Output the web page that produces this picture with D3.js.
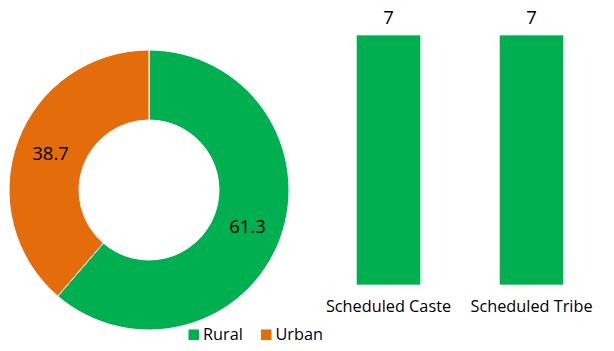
<!DOCTYPE html>
<html>
<head>
<meta charset="utf-8">
<script src="https://cdn.jsdelivr.net/npm/d3@7"></script>
<style>
  html, body { margin: 0; padding: 0; background: #fff; }
  svg { display: block; }
  text { font-family: "Open Sans", "Noto Sans", sans-serif; fill: #000; }
</style>
</head>
<body>
<svg id="chart" width="614" height="351"></svg>
<script>
// Residence split (percent)
const areaNames = ["Rural", "Urban"];
const areaValues = [61.3, 38.7];
const areaColors = ["#00B050", "#E46C0A"];

// Social group counts
const groupNames = ["Scheduled Caste", "Scheduled Tribe"];
const groupValues = [7, 7];
const barColor = "#00B050";

const svg = d3.select("#chart");

// ---- Donut ----
const cx = 149, cy = 190, outerR = 140, innerR = 70;
const pie = d3.pie().sort(null).value(d => d.value);
const arc = d3.arc().innerRadius(innerR).outerRadius(outerR);
const slices = pie(areaNames.map((n, i) => ({ name: n, value: areaValues[i], color: areaColors[i] })));

const donut = svg.append("g").attr("transform", `translate(${cx},${cy})`);
donut.selectAll("path")
  .data(slices)
  .join("path")
  .attr("d", arc)
  .attr("fill", d => d.data.color)
  .attr("stroke", "#fff")
  .attr("stroke-width", 1);

donut.selectAll("text")
  .data(slices)
  .join("text")
  .attr("transform", d => `translate(${arc.centroid(d)})`)
  .attr("text-anchor", "middle")
  .attr("dy", "0.36em")
  .style("font-size", "18.5px")
  .text(d => d.data.value.toFixed(1));

// ---- Legend ----
const legendX = [188.5, 261];
const legend = svg.append("g");
areaNames.forEach((n, i) => {
  const g = legend.append("g").attr("transform", `translate(${legendX[i]},329.5)`);
  g.append("rect").attr("width", 10.5).attr("height", 10.5).attr("fill", areaColors[i]);
  g.append("text").attr("x", 14.5).attr("y", 10.8).style("font-size", "16.3px").text(n);
});

// ---- Bars ----
const x = d3.scaleBand().domain(groupNames).range([317, 603]).paddingInner(0.55).paddingOuter(0.275);
const y = d3.scaleLinear().domain([0, 7]).range([285, 35]);

const bars = svg.append("g");
bars.selectAll("rect")
  .data(groupNames)
  .join("rect")
  .attr("x", d => x(d))
  .attr("width", x.bandwidth())
  .attr("y", (d, i) => y(groupValues[i]))
  .attr("height", (d, i) => y(0) - y(groupValues[i]))
  .attr("fill", barColor)
  .attr("stroke", "#e6f5ea")
  .attr("stroke-width", 0.8);

bars.selectAll("text.val")
  .data(groupNames)
  .join("text")
  .attr("class", "val")
  .attr("x", d => x(d) + x.bandwidth() / 2)
  .attr("y", (d, i) => y(groupValues[i]) - 11)
  .attr("text-anchor", "middle")
  .style("font-size", "18.5px")
  .text((d, i) => groupValues[i]);

// Category axis labels (axis line hidden)
const xAxis = svg.append("g")
  .attr("transform", `translate(0,${y(0)})`)
  .call(d3.axisBottom(x).tickSize(0).tickPadding(15));
xAxis.select(".domain").remove();
xAxis.selectAll("text")
  .style("font-size", "16.3px")
  .style("font-family", '"Open Sans", "Noto Sans", sans-serif')
  .attr("fill", "#000");
</script>
</body>
</html>
